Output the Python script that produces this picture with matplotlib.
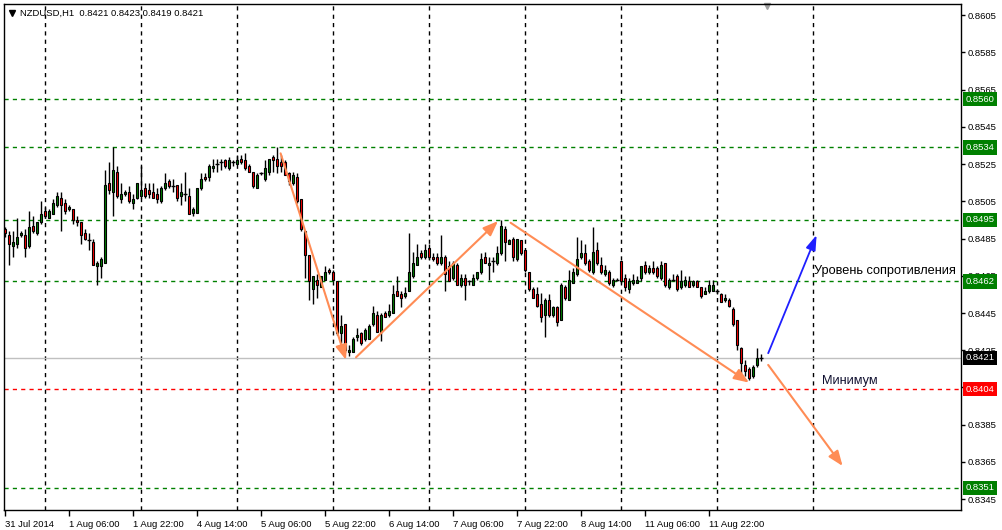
import numpy as np
import matplotlib
matplotlib.use('Agg')
from matplotlib import pyplot as plt
import matplotlib.transforms as mtransforms

plt.rcParams['font.family'] = ['Liberation Sans', 'DejaVu Sans']

## hourly candles NZDUSD,H1 (bar 0 = 31 Jul 14:00)
opens = [0.8490, 0.8487, 0.8481, 0.8482, 0.8487, 0.8487, 0.8481, 0.8492, 0.8488, 0.8494,
         0.8500, 0.8496, 0.8498, 0.8503, 0.8507, 0.8504, 0.8501, 0.8501, 0.8495, 0.8494,
         0.8488, 0.8484, 0.8483, 0.8470, 0.8470, 0.8472, 0.8515, 0.8510, 0.8521, 0.8506,
         0.8509, 0.8510, 0.8504, 0.8507, 0.8508, 0.8512, 0.8511, 0.8510, 0.8509, 0.8505,
         0.8512, 0.8516, 0.8513, 0.8514, 0.8508, 0.8509, 0.8508, 0.8499, 0.8499, 0.8512,
         0.8518, 0.8518, 0.8523, 0.8525, 0.8526, 0.8527, 0.8523, 0.8526, 0.8525, 0.8528,
         0.8527, 0.8524, 0.8521, 0.8512, 0.8520, 0.8517, 0.8521, 0.8529, 0.8528, 0.8526,
         0.8526, 0.8520, 0.8515, 0.8518, 0.8506, 0.8489, 0.8476, 0.8458, 0.8463, 0.8459,
         0.8463, 0.8468, 0.8467, 0.8462, 0.8434, 0.8439, 0.8424, 0.8424, 0.8432, 0.8434,
         0.8431, 0.8431, 0.8439, 0.8444, 0.8435, 0.8445, 0.8444, 0.8445, 0.8457, 0.8455,
         0.8454, 0.8457, 0.8465, 0.8471, 0.8477, 0.8475, 0.8480, 0.8475, 0.8475, 0.8472,
         0.8475, 0.8470, 0.8464, 0.8471, 0.8460, 0.8464, 0.8462, 0.8460, 0.8464, 0.8467,
         0.8475, 0.8471, 0.8473, 0.8472, 0.8477, 0.8490, 0.8482, 0.8485, 0.8474, 0.8484,
         0.8479, 0.8467, 0.8458, 0.8455, 0.8450, 0.8444, 0.8452, 0.8444, 0.8448, 0.8441,
         0.8459, 0.8452, 0.8461, 0.8466, 0.8475, 0.8477, 0.8473, 0.8467, 0.8479, 0.8471,
         0.8466, 0.8467, 0.8460, 0.8463, 0.8473, 0.8464, 0.8458, 0.8461, 0.8461, 0.8464,
         0.8471, 0.8467, 0.8469, 0.8469, 0.8464, 0.8472, 0.8459, 0.8463, 0.8465, 0.8459,
         0.8460, 0.8462, 0.8460, 0.8462, 0.8459, 0.8455, 0.8457, 0.8457, 0.8457, 0.8455,
         0.8452, 0.8452, 0.8447, 0.8441, 0.8426, 0.8417, 0.8415, 0.8411, 0.8417, 0.8421]
highs = [0.8491, 0.8489, 0.8489, 0.8496, 0.8489, 0.8490, 0.8500, 0.8497, 0.8494, 0.8505,
         0.8502, 0.8501, 0.8506, 0.8510, 0.8510, 0.8506, 0.8503, 0.8501, 0.8497, 0.8494,
         0.8490, 0.8488, 0.8485, 0.8473, 0.8475, 0.8522, 0.8526, 0.8534, 0.8524, 0.8515,
         0.8511, 0.8513, 0.8509, 0.8515, 0.8524, 0.8515, 0.8515, 0.8515, 0.8512, 0.8513,
         0.8520, 0.8517, 0.8517, 0.8514, 0.8515, 0.8521, 0.8512, 0.8502, 0.8512, 0.8520,
         0.8520, 0.8525, 0.8528, 0.8528, 0.8528, 0.8528, 0.8529, 0.8527, 0.8530, 0.8530,
         0.8531, 0.8525, 0.8521, 0.8520, 0.8521, 0.8527, 0.8528, 0.8530, 0.8534, 0.8530,
         0.8527, 0.8521, 0.8521, 0.8520, 0.8506, 0.8489, 0.8476, 0.8465, 0.8466, 0.8465,
         0.8470, 0.8469, 0.8468, 0.8462, 0.8444, 0.8439, 0.8428, 0.8432, 0.8437, 0.8435,
         0.8437, 0.8439, 0.8449, 0.8446, 0.8445, 0.8446, 0.8450, 0.8460, 0.8465, 0.8457,
         0.8459, 0.8488, 0.8478, 0.8482, 0.8479, 0.8482, 0.8482, 0.8477, 0.8477, 0.8487,
         0.8476, 0.8473, 0.8473, 0.8472, 0.8466, 0.8466, 0.8463, 0.8466, 0.8467, 0.8477,
         0.8478, 0.8475, 0.8475, 0.8481, 0.8495, 0.8492, 0.8485, 0.8486, 0.8485, 0.8484,
         0.8479, 0.8467, 0.8459, 0.8459, 0.8456, 0.8453, 0.8455, 0.8449, 0.8449, 0.8461,
         0.8460, 0.8468, 0.8469, 0.8486, 0.8484, 0.8482, 0.8474, 0.8491, 0.8483, 0.8475,
         0.8471, 0.8468, 0.8464, 0.8464, 0.8473, 0.8466, 0.8464, 0.8466, 0.8465, 0.8470,
         0.8473, 0.8471, 0.8473, 0.8470, 0.8473, 0.8472, 0.8464, 0.8466, 0.8466, 0.8468,
         0.8465, 0.8465, 0.8463, 0.8463, 0.8459, 0.8459, 0.8463, 0.8463, 0.8458, 0.8456,
         0.8455, 0.8453, 0.8448, 0.8441, 0.8427, 0.8420, 0.8416, 0.8417, 0.8426, 0.8423]
lows = [0.8486, 0.8471, 0.8475, 0.8480, 0.8486, 0.8475, 0.8480, 0.8488, 0.8487, 0.8493,
        0.8496, 0.8496, 0.8498, 0.8502, 0.8489, 0.8498, 0.8500, 0.8493, 0.8492, 0.8482,
        0.8484, 0.8479, 0.8471, 0.8460, 0.8464, 0.8472, 0.8509, 0.8497, 0.8507, 0.8504,
        0.8508, 0.8504, 0.8501, 0.8506, 0.8507, 0.8507, 0.8507, 0.8507, 0.8504, 0.8504,
        0.8511, 0.8512, 0.8510, 0.8505, 0.8503, 0.8505, 0.8498, 0.8497, 0.8499, 0.8511,
        0.8516, 0.8516, 0.8521, 0.8521, 0.8522, 0.8523, 0.8522, 0.8524, 0.8525, 0.8525,
        0.8522, 0.8521, 0.8512, 0.8512, 0.8519, 0.8516, 0.8519, 0.8521, 0.8520, 0.8521,
        0.8519, 0.8514, 0.8514, 0.8504, 0.8489, 0.8464, 0.8452, 0.8450, 0.8453, 0.8459,
        0.8463, 0.8466, 0.8462, 0.8433, 0.8429, 0.8424, 0.8422, 0.8424, 0.8430, 0.8428,
        0.8430, 0.8431, 0.8438, 0.8435, 0.8430, 0.8443, 0.8443, 0.8445, 0.8454, 0.8448,
        0.8453, 0.8457, 0.8464, 0.8471, 0.8474, 0.8474, 0.8474, 0.8473, 0.8471, 0.8471,
        0.8457, 0.8462, 0.8463, 0.8460, 0.8459, 0.8452, 0.8460, 0.8460, 0.8463, 0.8466,
        0.8472, 0.8463, 0.8467, 0.8471, 0.8476, 0.8473, 0.8482, 0.8473, 0.8473, 0.8476,
        0.8467, 0.8457, 0.8453, 0.8448, 0.8440, 0.8432, 0.8443, 0.8443, 0.8438, 0.8441,
        0.8452, 0.8452, 0.8461, 0.8465, 0.8474, 0.8471, 0.8467, 0.8466, 0.8471, 0.8466,
        0.8465, 0.8460, 0.8459, 0.8462, 0.8461, 0.8457, 0.8456, 0.8460, 0.8461, 0.8462,
        0.8466, 0.8466, 0.8466, 0.8464, 0.8463, 0.8459, 0.8458, 0.8462, 0.8457, 0.8458,
        0.8459, 0.8459, 0.8459, 0.8459, 0.8453, 0.8455, 0.8456, 0.8457, 0.8455, 0.8451,
        0.8451, 0.8448, 0.8438, 0.8425, 0.8413, 0.8411, 0.8409, 0.8410, 0.8416, 0.8419]
closes = [0.8488, 0.8482, 0.8483, 0.8486, 0.8488, 0.8480, 0.8491, 0.8489, 0.8494, 0.8498,
          0.8497, 0.8500, 0.8504, 0.8508, 0.8503, 0.8500, 0.8502, 0.8495, 0.8494, 0.8487,
          0.8485, 0.8484, 0.8471, 0.8472, 0.8474, 0.8514, 0.8511, 0.8522, 0.8508, 0.8509,
          0.8510, 0.8505, 0.8506, 0.8515, 0.8511, 0.8508, 0.8509, 0.8507, 0.8506, 0.8512,
          0.8515, 0.8513, 0.8513, 0.8507, 0.8510, 0.8509, 0.8498, 0.8501, 0.8512, 0.8517,
          0.8517, 0.8524, 0.8524, 0.8525, 0.8526, 0.8524, 0.8527, 0.8526, 0.8527, 0.8526,
          0.8523, 0.8521, 0.8513, 0.8519, 0.8520, 0.8523, 0.8528, 0.8527, 0.8524, 0.8524,
          0.8519, 0.8516, 0.8519, 0.8505, 0.8490, 0.8476, 0.8462, 0.8465, 0.8460, 0.8465,
          0.8467, 0.8467, 0.8463, 0.8434, 0.8438, 0.8425, 0.8425, 0.8431, 0.8433, 0.8429,
          0.8436, 0.8438, 0.8445, 0.8435, 0.8444, 0.8443, 0.8446, 0.8455, 0.8454, 0.8453,
          0.8456, 0.8467, 0.8472, 0.8475, 0.8475, 0.8479, 0.8475, 0.8474, 0.8472, 0.8475,
          0.8466, 0.8462, 0.8472, 0.8460, 0.8464, 0.8460, 0.8462, 0.8464, 0.8467, 0.8474,
          0.8472, 0.8472, 0.8473, 0.8477, 0.8492, 0.8483, 0.8484, 0.8475, 0.8485, 0.8477,
          0.8468, 0.8458, 0.8453, 0.8449, 0.8443, 0.8452, 0.8444, 0.8448, 0.8440, 0.8460,
          0.8453, 0.8463, 0.8467, 0.8474, 0.8477, 0.8472, 0.8468, 0.8478, 0.8472, 0.8467,
          0.8468, 0.8461, 0.8463, 0.8463, 0.8462, 0.8459, 0.8462, 0.8463, 0.8463, 0.8470,
          0.8467, 0.8469, 0.8467, 0.8465, 0.8471, 0.8460, 0.8463, 0.8463, 0.8458, 0.8462,
          0.8463, 0.8459, 0.8462, 0.8459, 0.8454, 0.8457, 0.8460, 0.8460, 0.8457, 0.8451,
          0.8453, 0.8449, 0.8439, 0.8428, 0.8418, 0.8414, 0.8410, 0.8416, 0.8421, 0.8421]

x_tick_bars = [0, 16, 32, 48, 64, 80, 96, 112, 128, 144, 160, 176]
x_tick_labels = ['31 Jul 2014', '1 Aug 06:00', '1 Aug 22:00', '4 Aug 14:00', '5 Aug 06:00',
                 '5 Aug 22:00', '6 Aug 14:00', '7 Aug 06:00', '7 Aug 22:00', '8 Aug 14:00',
                 '11 Aug 06:00', '11 Aug 22:00']
grid_bars = [10, 34, 58, 82, 106, 130, 154, 178, 202]   # midnights
y_ticks = [0.8345, 0.8365, 0.8385, 0.8405, 0.8425, 0.8445, 0.8465, 0.8485,
           0.8505, 0.8525, 0.8545, 0.8565, 0.8585, 0.8605]

support_levels = [0.8560, 0.8534, 0.8495, 0.8462, 0.8351]
minimum_level = 0.8404
last_price = 0.8421

# trend arrows: (bar, price) start -> end
orange_arrows = [((68.9, 0.85308), (85.25, 0.84198)),
                 ((87.75, 0.84212), (123.25, 0.84944)),
                 ((126.4, 0.84935), (186.0, 0.84076)),
                 ((190.8, 0.84171), (209.4, 0.83628))]
blue_arrow = ((190.8, 0.84234), (202.9, 0.84869))

GREEN = '#008000'
RED = '#ff0000'

fig = plt.figure(figsize=(10.03, 5.30), dpi=100)
fig.patch.set_facecolor('white')
ax = fig.add_axes([4/1003, 20/530, 957/1003, 506/530])
ax.set_xlim(-0.25, 239)
ax.set_ylim(0.833915, 0.861105)

## vertical grid
for g in grid_bars:
    ax.axvline(g, color='black', lw=1, ls=(0, (3, 3)), zorder=1)

## levels
for lv in support_levels:
    ax.axhline(lv, color=GREEN, lw=1, ls=(0, (3, 3)), zorder=1)
ax.axhline(minimum_level, color=RED, lw=1, ls=(0, (3, 3)), zorder=1)
ax.axhline(last_price, color='#c0c0c0', lw=1, zorder=1)

## candles
o = np.array(opens); h = np.array(highs); l = np.array(lows); c = np.array(closes)
idx = np.arange(len(o))
ax.vlines(idx, l, h, color='black', lw=1, zorder=2)
up = c > o
dn = c < o
eq = c == o
ax.bar(idx[up], (c - o)[up], bottom=o[up], width=0.72, color=GREEN,
       edgecolor='black', linewidth=0.8, zorder=3)
ax.bar(idx[dn], (o - c)[dn], bottom=c[dn], width=0.72, color=RED,
       edgecolor='black', linewidth=0.8, zorder=3)
ax.hlines(o[eq], idx[eq] - 0.45, idx[eq] + 0.45, color='black', lw=1, zorder=3)

## arrows
for (x0, y0), (x1, y1) in orange_arrows:
    ax.annotate('', xy=(x1, y1), xytext=(x0, y0),
                arrowprops=dict(arrowstyle='-|>,head_length=0.9,head_width=0.35',
                                color='#ff8c55', lw=1.5, shrinkA=0, shrinkB=0), zorder=4)
(x0, y0), (x1, y1) = blue_arrow
ax.annotate('', xy=(x1, y1), xytext=(x0, y0),
            arrowprops=dict(arrowstyle='-|>,head_length=0.9,head_width=0.3',
                            color='#1f1fff', lw=1.3, shrinkA=0, shrinkB=0), zorder=4)

ax.text(202.25, 0.84676, 'Уровень сопротивления', fontsize=9.2, va='center', ha='left', zorder=5)
ax.text(204.25, 0.84085, 'Минимум', fontsize=9.2, va='center', ha='left', color='#101030', zorder=5)

## header
ax.plot([0.008], [0.982], marker='v', color='black', ms=4, transform=ax.transAxes, clip_on=False)
ax.text(0.017, 0.982, 'NZDUSD,H1  0.8421 0.8423 0.8419 0.8421', fontsize=6.8,
        transform=ax.transAxes, va='center', ha='left')
ax.plot([190.6], [0.86098], marker='v', color='#a0a0a0', ms=5, clip_on=False)

## axes
for s in ax.spines.values():
    s.set_color('black')
    s.set_linewidth(1)
ax.yaxis.tick_right()
ax.set_yticks(y_ticks)
ax.set_yticklabels(['%.4f' % v for v in y_ticks])
ax.tick_params(axis='y', length=3, width=1, pad=2, labelsize=6.8)
ax.set_xticks(x_tick_bars)
ax.set_xticklabels(x_tick_labels, ha='left')
ax.tick_params(axis='x', length=4, width=1, pad=3, labelsize=6.8)

## price boxes on the right scale
trans = mtransforms.blended_transform_factory(ax.transAxes, ax.transData)
boxes = [(lv, GREEN) for lv in support_levels] + [(minimum_level, RED), (last_price, 'black')]
for lv, col in boxes:
    ax.text(1.0045, lv, '%.4f' % lv, transform=trans, fontsize=6.8, color='white',
            va='center', ha='left', clip_on=False, zorder=6,
            bbox=dict(boxstyle='square,pad=0.28', facecolor=col, edgecolor='none'))

plt.savefig('out.png', dpi=100)
